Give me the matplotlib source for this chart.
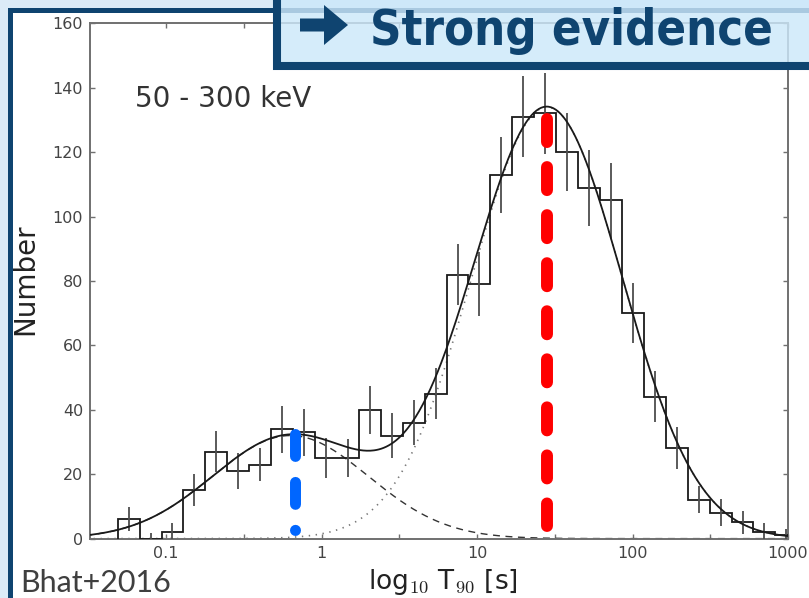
import matplotlib.pyplot as plt
import numpy as np
from matplotlib.patches import Rectangle, FancyArrow
from matplotlib.ticker import FixedLocator, FixedFormatter, NullFormatter

plt.rcParams['mathtext.fontset'] = 'cm'
plt.rcParams['lines.scale_dashes'] = False

# T90 histogram, log10 bins
bin_start = -1.311
bin_width = 0.141
counts = [6, 0, 2, 15, 27, 21, 23, 34, 33, 25, 25, 40, 32, 36, 45, 82,
          79, 113, 131, 132, 120, 109, 105, 70, 44, 28, 12, 8, 5, 2, 1]
errors = [3.7, 1.7, 2.8, 5.0, 6.4, 5.7, 5.0, 7.3, 7.3, 6.2, 6.0, 7.5, 7.0,
          7.0, 8.0, 9.5, 10.0, 11.8, 12.6, 12.5, 12.0, 11.8, 11.6, 9.4,
          7.9, 6.5, 4.2, 4.2, 3.5, 2.7, 2.0]

# lognormal fit components: (amplitude, log10 mean, log10 sigma)
short_fit = (32.0, -0.20, 0.50)
long_fit = (134.0, 1.45, 0.483)

# class markers (T90 in s) and their extent in counts
t90_short, short_span = 0.68, (32.5, 2.8)
t90_long, long_span = 28.0, (130.3, 4.0)

xticks = [0.1, 1, 10, 100, 1000]
xticklabels = ['0.1', '1', '10', '100', '1000']
yticks = [0, 20, 40, 60, 80, 100, 120, 140, 160]

navy = '#0f4470'
light = '#dcebf7'


def gauss(x, amp, mu, sig):
    return amp * np.exp(-(x - mu) ** 2 / (2 * sig ** 2))


fig = plt.figure(figsize=(8.09, 5.98), dpi=100, facecolor=light)
W, H = 809.0, 598.0

# slide frame
fig.patches.append(Rectangle((9.5 / W, -0.1), 1.2, 1.1 - 10.5 / H,
                             transform=fig.transFigure, facecolor='white',
                             edgecolor=navy, linewidth=3.6, zorder=-5))

ax = fig.add_axes([90 / W, 1 - 538.6 / H, 698 / W, 515.3 / H])

edges = 10 ** (bin_start + bin_width * np.arange(len(counts) + 1))
centers = np.sqrt(edges[:-1] * edges[1:])
ax.stairs(counts, edges, color='#1a1a1a', linewidth=1.3, zorder=3)
ax.errorbar(centers, counts, yerr=errors, fmt='none', ecolor='#4d4d4d',
            elinewidth=1.3, capsize=0, zorder=3)

lx = np.linspace(-1.6, 3.1, 600)
xs = 10 ** lx
ax.plot(xs, gauss(lx, *short_fit), color='#333333', linewidth=1.0,
        linestyle=(0, (5, 4)), zorder=2)
ax.plot(xs, gauss(lx, *long_fit), color='#777777', linewidth=1.2,
        linestyle=(0, (1, 4)), zorder=2)
ax.plot(xs, gauss(lx, *short_fit) + gauss(lx, *long_fit), color='#1a1a1a',
        linewidth=1.3, zorder=4)

ax.plot([t90_short, t90_short], short_span, color='#0066ff', linewidth=7.9,
        solid_capstyle='round', dash_capstyle='round',
        linestyle=(0, (15.8, 18.7)), zorder=5)
ax.plot([t90_long, t90_long], long_span, color='#ff0000', linewidth=8.6,
        solid_capstyle='round', dash_capstyle='round',
        linestyle=(0, (16.6, 18.0)), zorder=5)

ax.set_xscale('log')
ax.set_xlim(10 ** -1.489, 1000)
ax.set_ylim(0, 160)
ax.xaxis.set_major_locator(FixedLocator(xticks))
ax.xaxis.set_major_formatter(FixedFormatter(xticklabels))
ax.xaxis.set_minor_locator(FixedLocator([10 ** (k + 0.5) for k in range(-2, 3)]))
ax.xaxis.set_minor_formatter(NullFormatter())
ax.set_yticks(yticks)

for s in ax.spines.values():
    s.set_color('#707070')
    s.set_linewidth(1.4)
ax.tick_params(which='both', direction='in', top=True, right=True,
               length=3.6, width=1.0, color='#707070',
               labelsize=11.5, labelcolor='#444444', pad=5)

fig.text(135 / W, 1 - 107 / H, '50 - 300 keV', fontsize=20,
         color='#333333', va='baseline')

ax.set_ylabel('Number', fontsize=20, color='#222222')
ax.yaxis.set_label_coords(-0.073, 0.504)
ax.set_xlabel(r'log$_{10}$ T$_{90}$ [s]', fontsize=19, color='#222222')
ax.xaxis.set_label_coords(0.505, -0.056)

# headline box
fig.patches.append(Rectangle((277 / W, 1 - 65.5 / H), 0.8, 0.3,
                             transform=fig.transFigure,
                             facecolor=(0.80, 0.91, 0.98, 0.82),
                             edgecolor=navy, linewidth=5.8, zorder=10))
fig.patches.append(FancyArrow(3.00, (H - 25) / 100, 0.48, 0, width=0.13,
                              head_width=0.40, head_length=0.24,
                              length_includes_head=True, color=navy,
                              linewidth=0, transform=fig.dpi_scale_trans,
                              zorder=11))
fig.text(370 / W, 1 - 45 / H, 'Strong evidence', fontsize=35,
         fontweight='bold', fontstretch='condensed', color=navy,
         va='baseline', family='DejaVu Sans', zorder=11)

fig.text(20 / W, 6 / H, 'Bhat+2016', fontsize=22, color='#3f3f3f',
         va='baseline', family=['Lato', 'DejaVu Sans'])

fig.savefig('out.png', dpi=100, facecolor=light)
